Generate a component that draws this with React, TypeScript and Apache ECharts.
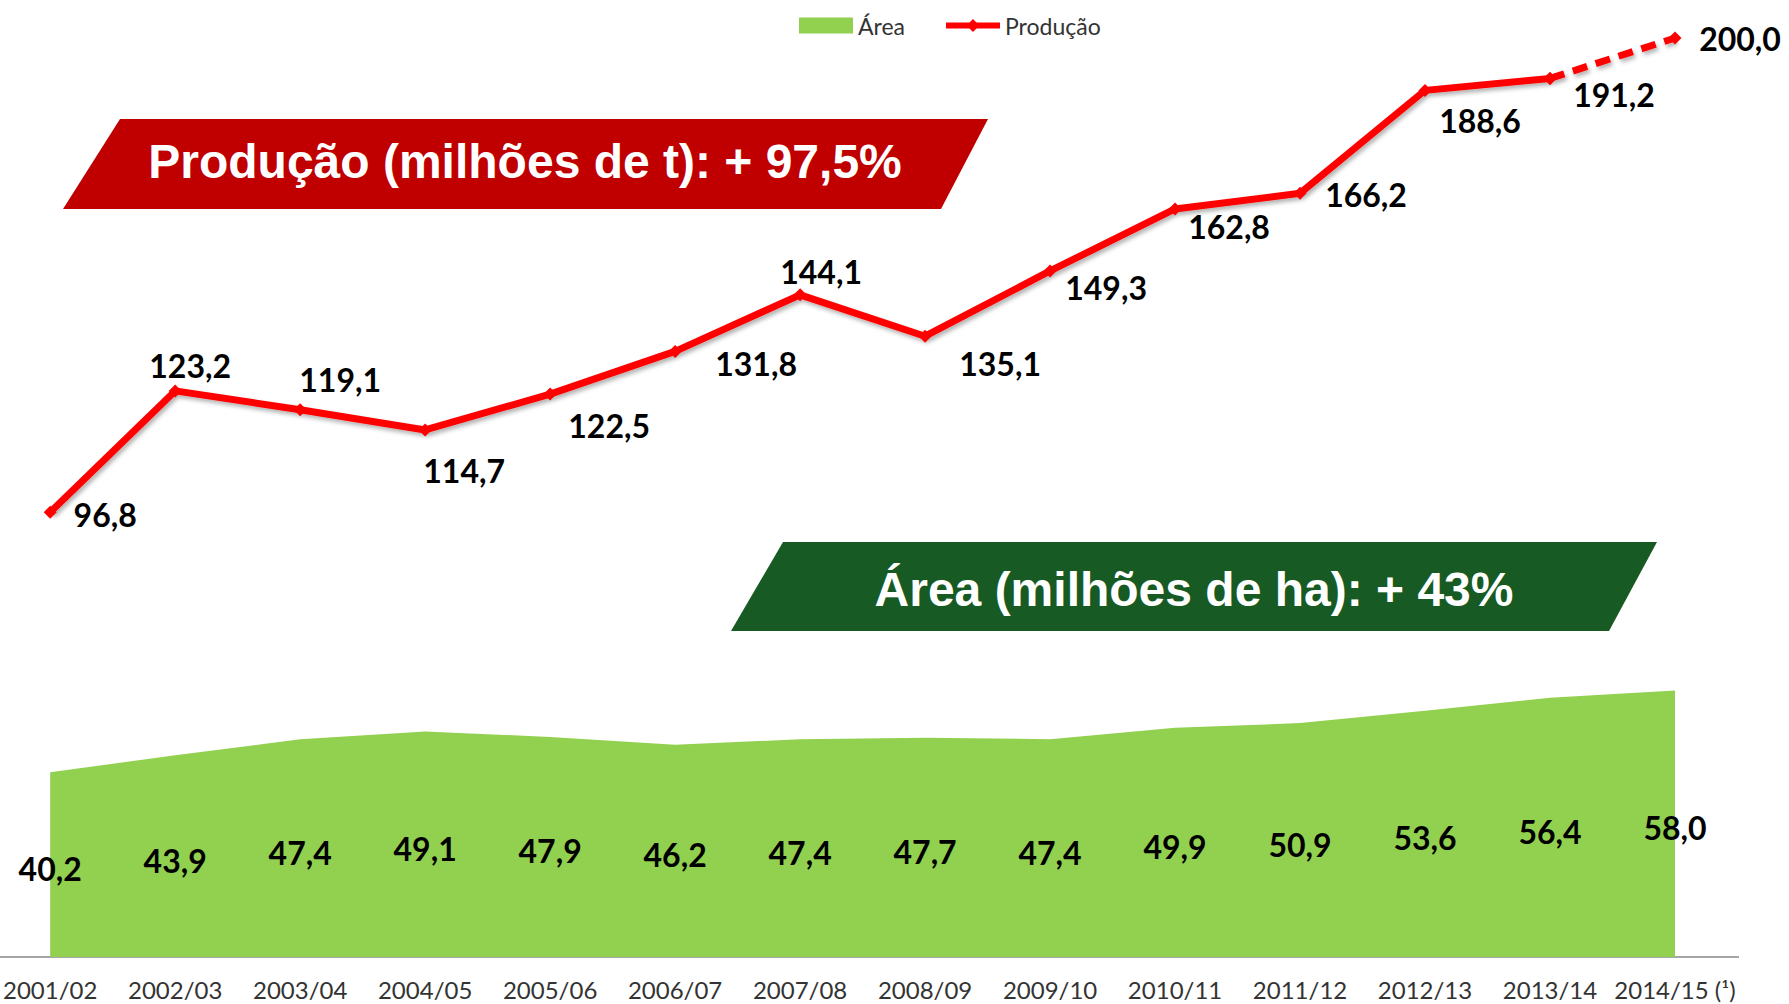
import React, { useEffect, useRef } from "react";
import * as echarts from "echarts";

const categories = [
  "2001/02", "2002/03", "2003/04", "2004/05", "2005/06", "2006/07", "2007/08",
  "2008/09", "2009/10", "2010/11", "2011/12", "2012/13", "2013/14", "2014/15 (¹)",
];
const production = [96.8, 123.2, 119.1, 114.7, 122.5, 131.8, 144.1, 135.1, 149.3, 162.8, 166.2, 188.6, 191.2, 200.0];
const area = [40.2, 43.9, 47.4, 49.1, 47.9, 46.2, 47.4, 47.7, 47.4, 49.9, 50.9, 53.6, 56.4, 58.0];
// label placement (pixel offsets from each point), not data
const productionLabelOffsets = [
  [55, 2], [15, -25], [40, -30], [39, 41], [59, 31], [81, 12], [21, -23],
  [75, 27], [56, 17], [54, 18], [66, 1], [55, 30], [64, 16], [65, 0],
];
const forecastFrom = 12; // index where the dashed (forecast) segment starts

const fmt = (v: number) => v.toFixed(1).replace(".", ",");

export default function App() {
  const ref = useRef<HTMLDivElement>(null);

  useEffect(() => {
    const chart = echarts.init(ref.current!, null, { renderer: "svg" });

    const labelFont = {
      fontFamily: "Lato",
      fontWeight: "bold" as const,
      fontSize: 32,
      color: "#000",
    };

    const solidData = production.map((v, i) =>
      i <= forecastFrom
        ? { value: v, label: { offset: productionLabelOffsets[i] } }
        : "-"
    );
    const dashedData = production.map((v, i) =>
      i >= forecastFrom
        ? {
            value: v,
            label: { show: i > forecastFrom, offset: productionLabelOffsets[i] },
          }
        : "-"
    );

    const lineShadow = {
      shadowColor: "rgba(0,0,0,0.3)",
      shadowBlur: 4,
      shadowOffsetX: 2,
      shadowOffsetY: 3,
    };

    chart.setOption({
      animation: false,
      backgroundColor: "#fff",
      grid: { left: 48, right: 114, top: 38, bottom: 47 },
      legend: {
        left: 794,
        top: 9,
        itemWidth: 54,
        itemHeight: 16,
        itemGap: 38,
        data: [
          { name: "Área", icon: "rect" },
          { name: "Produção", lineStyle: { width: 6 } },
        ],
        textStyle: { fontFamily: "Lato", fontSize: 23, color: "#333" },
      },
      xAxis: {
        type: "category",
        data: categories,
        boundaryGap: false,
        axisLine: { show: false },
        axisTick: { show: false },
        axisLabel: {
          interval: 0,
          fontFamily: "Lato",
          fontSize: 24,
          color: "#333",
          margin: 20,
        },
      },
      yAxis: { type: "value", min: 0, max: 200, show: false },
      series: [
        {
          name: "Área",
          type: "line",
          data: area,
          symbol: "none",
          color: "#92D050",
          lineStyle: { width: 0 },
          areaStyle: { color: "#92D050", opacity: 1 },
          z: 1,
        },
        {
          name: "areaLabels",
          type: "bar",
          data: area,
          barWidth: 2,
          itemStyle: { color: "rgba(0,0,0,0)" },
          label: {
            show: true,
            position: "inside",
            offset: [0, 4],
            formatter: (p: any) => fmt(p.value),
            ...labelFont,
          },
          z: 3,
        },
        {
          name: "Produção",
          type: "line",
          data: solidData,
          color: "#FF0000",
          symbol: "diamond",
          symbolSize: 13,
          lineStyle: { width: 7, color: "#FF0000", ...lineShadow },
          itemStyle: { color: "#FF0000" },
          label: {
            show: true,
            position: "inside",
            formatter: (p: any) => fmt(p.value),
            ...labelFont,
          },
          z: 4,
        },
        {
          name: "Produção",
          type: "line",
          data: dashedData,
          color: "#FF0000",
          symbol: "diamond",
          symbolSize: 13,
          lineStyle: { width: 7, color: "#FF0000", type: [15, 9], ...lineShadow },
          itemStyle: { color: "#FF0000" },
          label: {
            show: true,
            position: "inside",
            formatter: (p: any) => fmt(p.value),
            ...labelFont,
          },
          z: 4,
        },
      ],
      graphic: [
        {
          type: "line",
          shape: { x1: 0, y1: 957, x2: 1739, y2: 957 },
          style: { stroke: "#A6A6A6", lineWidth: 2 },
          z: 0,
        },
        {
          type: "polygon",
          shape: { points: [[120, 119], [988, 119], [941, 209], [63, 209]] },
          style: { fill: "#C00000" },
        },
        {
          type: "text",
          x: 525,
          y: 161,
          style: {
            text: "Produção (milhões de t): + 97,5%",
            fill: "#fff",
            fontFamily: "Liberation Sans",
            fontWeight: "bold",
            fontSize: 48,
            align: "center",
            verticalAlign: "middle",
          },
        },
        {
          type: "polygon",
          shape: { points: [[783, 542], [1657, 542], [1609, 631], [731, 631]] },
          style: { fill: "#175A23" },
        },
        {
          type: "text",
          x: 1194,
          y: 589,
          style: {
            text: "Área (milhões de ha): + 43%",
            fill: "#fff",
            fontFamily: "Liberation Sans",
            fontWeight: "bold",
            fontSize: 48,
            align: "center",
            verticalAlign: "middle",
          },
        },
      ],
    });

    return () => chart.dispose();
  }, []);

  return (
    <div
      ref={ref}
      style={{ position: "fixed", left: 0, top: 0, width: 1789, height: 1004, background: "#fff" }}
    />
  );
}
